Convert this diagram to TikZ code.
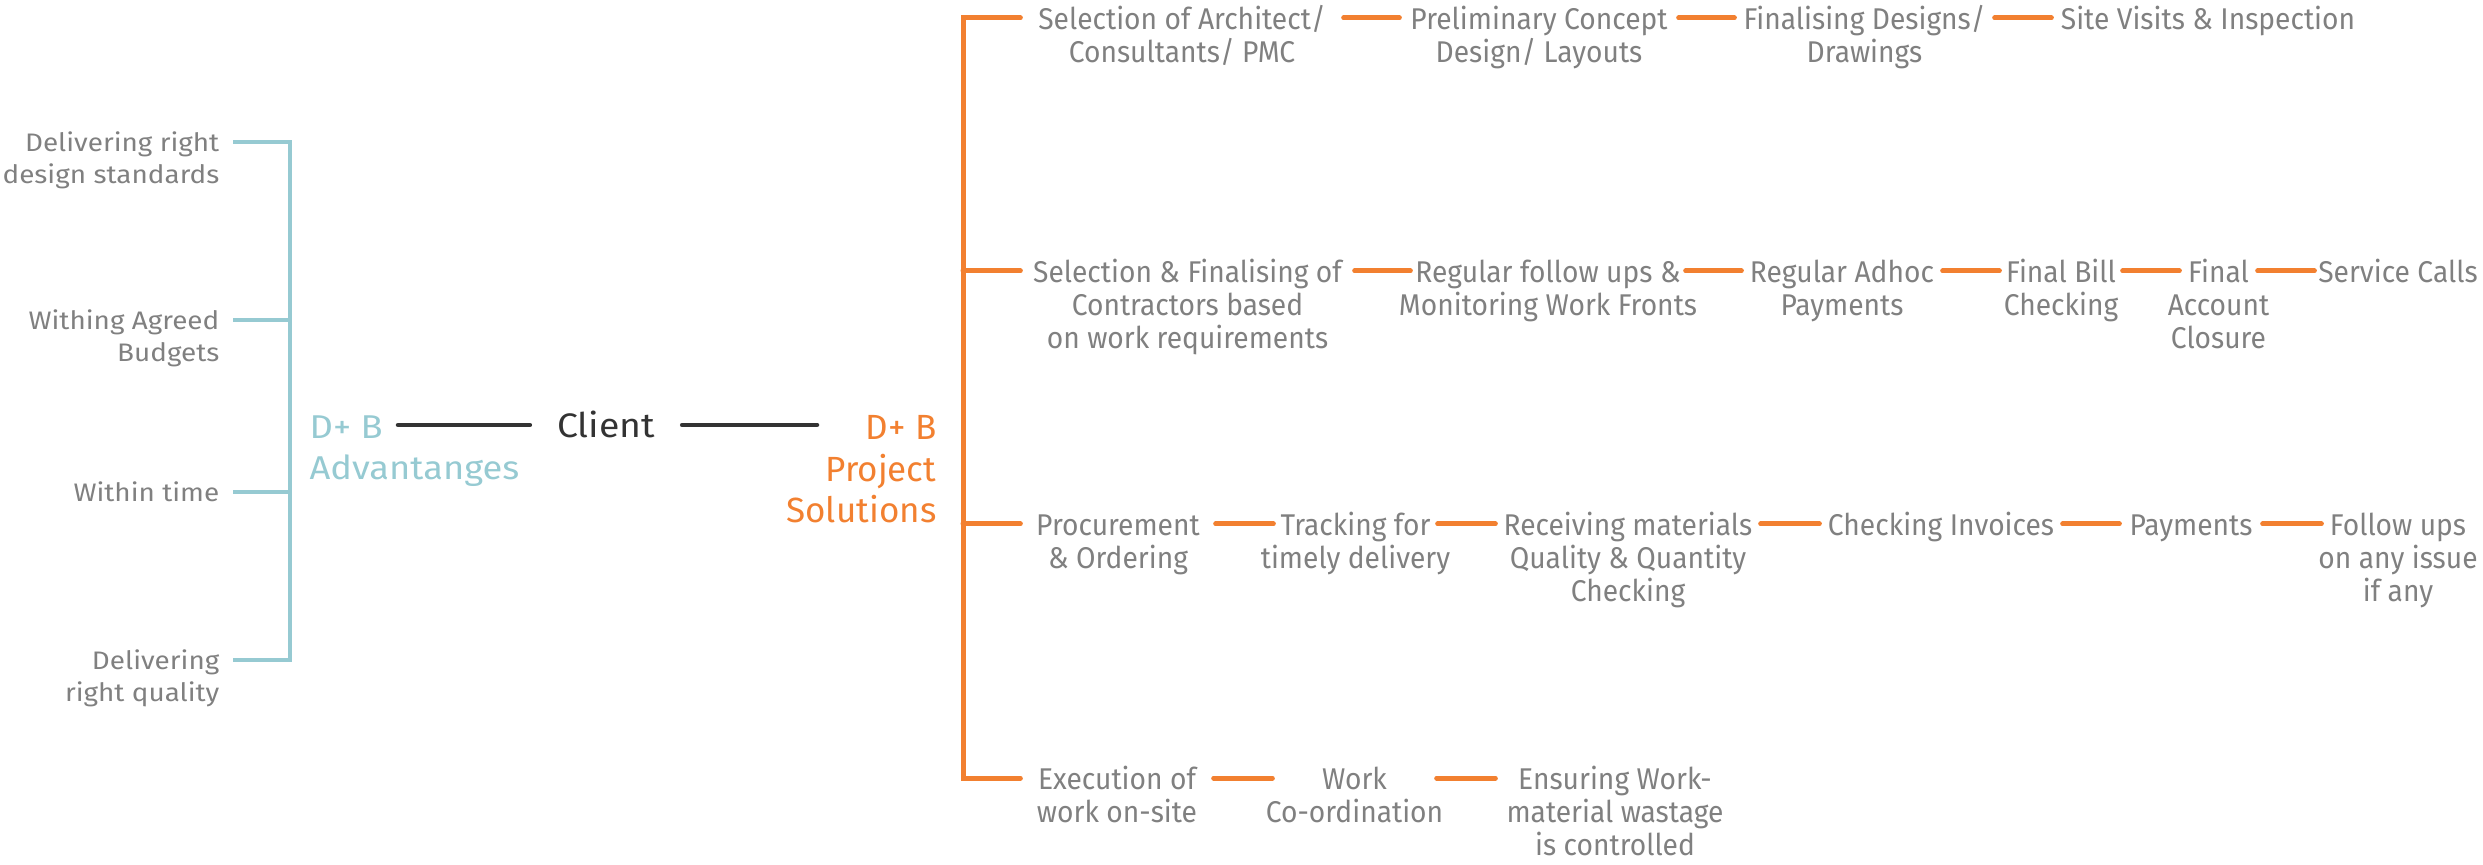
\documentclass[tikz,border=0pt]{standalone}
\usepackage{fontspec}
\setmainfont{Fira Sans}
\newfontfamily\lfont[FakeStretch=1.1]{Fira Sans}
\newfontfamily\rfont[FakeStretch=0.94]{Fira Sans}
\usetikzlibrary{calc}
\definecolor{txtgray}{HTML}{808080}
\definecolor{tealc}{HTML}{96CAD2}
\definecolor{orng}{HTML}{F28030}
\definecolor{darkc}{HTML}{333333}
\newcommand\cl[1]{\makebox[0pt]{#1}}
\newcommand\fl[1]{\rule{0pt}{1em}\makebox[0pt]{#1}}
\begin{document}
\begin{tikzpicture}[x=0.3pt,y=-0.3pt,
  llbl/.style={font=\lfont\fontsize{7.6pt}{9.6pt}\selectfont, text=txtgray, inner sep=0pt, align=right, anchor=north east},
  rlbl/.style={font=\rfont\fontsize{9pt}{9.9pt}\selectfont, text=txtgray, inner sep=0pt, align=center, anchor=north},
  oline/.style={draw=orng, line width=1.5pt, line cap=round},
  tline/.style={draw=tealc, line width=1.2pt},
  bline/.style={draw=darkc, line width=1.35pt, line cap=round}]
\useasboundingbox (0,0) rectangle (2483,865);
% left labels
\node[llbl] (L1) at (220,125.5) {\rule{0pt}{1em}Delivering right\\design standards};
\node[llbl] (L2) at (220,303.5) {\rule{0pt}{1em}Withing Agreed\\Budgets};
\node[llbl] (L3) at (220,475.5) {\rule{0pt}{1em}Within time};
\node[llbl] (L4) at (220,643.5) {\rule{0pt}{1em}Delivering\\right quality};
\coordinate (t1) at (290,142);
\coordinate (t2) at (290,320);
\coordinate (t3) at (290,492);
\coordinate (t4) at (290,660);
\draw[tline, shorten <=3.9pt, shorten >=3.9pt] (L1.east|-t1) -- (t1) -- (t4) -- (L4.east|-t4);
\draw[tline, shorten >=3.9pt] (t2) -- (L2.east|-t2);
\draw[tline, shorten >=3.9pt] (t3) -- (L3.east|-t3);
% centre
\node[font=\lfont\fontsize{9.9pt}{12.3pt}\selectfont, text=tealc, inner sep=0pt, align=left, anchor=north west] (Adv) at (309,404.4) {\rule{0pt}{1em}D+ B\\Advantanges};
\node[font=\lfont\fontsize{10.2pt}{12pt}\selectfont, text=darkc, inner sep=0pt, anchor=north, minimum width=151*0.3pt] (Client) at (606,403) {\fl{Client}};
\node[font=\fontsize{10.5pt}{12.45pt}\selectfont, text=orng, inner sep=0pt, align=right, anchor=north east] (PS) at (937,404.1) {\rule{0pt}{1em}D+ B\\Project\\Solutions};
\coordinate (advEnd) at (398,425);
\coordinate (pjEnd) at (817,425);
\draw[bline] (advEnd) -- (Client.west|-advEnd);
\draw[bline] (Client.east|-pjEnd) -- (pjEnd);
% right rows
\node[rlbl, minimum width=322*0.3pt] (A1) at (1182,-1.65) {\fl{Selection of Architect/}\\\cl{Consultants/ PMC}};
\node[rlbl, minimum width=278*0.3pt] (A2) at (1539,-1.65) {\fl{Preliminary Concept}\\\cl{Design/ Layouts}};
\node[rlbl, minimum width=259*0.3pt] (A3) at (1864.5,-1.65) {\fl{Finalising Designs/}\\\cl{Drawings}};
\node[rlbl, minimum width=312*0.3pt] (A4) at (2208,-1.65) {\fl{Site Visits \& Inspection}};
\node[rlbl, minimum width=333*0.3pt] (B1) at (1187.5,251.35) {\fl{Selection \& Finalising of}\\\cl{Contractors based}\\\cl{on work requirements}};
\node[rlbl, minimum width=274*0.3pt] (B2) at (1548,251.35) {\fl{Regular follow ups \&}\\\cl{Monitoring Work Fronts}};
\node[rlbl, minimum width=200*0.3pt] (B3) at (1842,251.35) {\fl{Regular Adhoc}\\\cl{Payments}};
\node[rlbl, minimum width=122*0.3pt] (B4) at (2061,251.35) {\fl{Final Bill}\\\cl{Checking}};
\node[rlbl, minimum width=77*0.3pt] (B5) at (2218.5,251.35) {\fl{Final}\\\cl{Account}\\\cl{Closure}};
\node[rlbl, minimum width=166*0.3pt] (B6) at (2398,251.35) {\fl{Service Calls}};
\node[rlbl, minimum width=194*0.3pt] (C1) at (1118,504.35) {\fl{Procurement}\\\cl{\& Ordering}};
\node[rlbl, minimum width=163*0.3pt] (C2) at (1355.5,504.35) {\fl{Tracking for}\\\cl{timely delivery}};
\node[rlbl, minimum width=264*0.3pt] (C3) at (1628,504.35) {\fl{Receiving materials}\\\cl{Quality \& Quantity}\\\cl{Checking}};
\node[rlbl, minimum width=242*0.3pt] (C4) at (1941,504.35) {\fl{Checking Invoices}};
\node[rlbl, minimum width=142*0.3pt] (C5) at (2191,504.35) {\fl{Payments}};
\node[rlbl, minimum width=152*0.3pt] (C6) at (2398,504.35) {\fl{Follow ups}\\\cl{on any issue}\\\cl{if any}};
\node[rlbl, minimum width=192*0.3pt] (D1) at (1117,758.35) {\fl{Execution of}\\\cl{work on-site}};
\node[rlbl, minimum width=163*0.3pt] (D2) at (1354.5,758.35) {\fl{Work}\\\cl{Co-ordination}};
\node[rlbl, minimum width=238*0.3pt] (D3) at (1615,758.35) {\fl{Ensuring Work-}\\\cl{material wastage}\\\cl{is controlled}};
\coordinate (r1) at (963,18);
\coordinate (r2) at (963,271);
\coordinate (r3) at (963,524);
\coordinate (r4) at (963,778);
\draw[oline] (A1.west|-r1) -- (r1) -- (r4) -- (D1.west|-r4);
\draw[oline] (r2) -- (B1.west|-r2);
\draw[oline] (r3) -- (C1.west|-r3);
\draw[oline] (A1.east|-r1) -- (A2.west|-r1);
\draw[oline] (A2.east|-r1) -- (A3.west|-r1);
\draw[oline] (A3.east|-r1) -- (A4.west|-r1);
\draw[oline] (B1.east|-r2) -- (B2.west|-r2);
\draw[oline] (B2.east|-r2) -- (B3.west|-r2);
\draw[oline] (B3.east|-r2) -- (B4.west|-r2);
\draw[oline] (B4.east|-r2) -- (B5.west|-r2);
\draw[oline] (B5.east|-r2) -- (B6.west|-r2);
\draw[oline] (C1.east|-r3) -- (C2.west|-r3);
\draw[oline] (C2.east|-r3) -- (C3.west|-r3);
\draw[oline] (C3.east|-r3) -- (C4.west|-r3);
\draw[oline] (C4.east|-r3) -- (C5.west|-r3);
\draw[oline] (C5.east|-r3) -- (C6.west|-r3);
\draw[oline] (D1.east|-r4) -- (D2.west|-r4);
\draw[oline] (D2.east|-r4) -- (D3.west|-r4);
\end{tikzpicture}
\end{document}
